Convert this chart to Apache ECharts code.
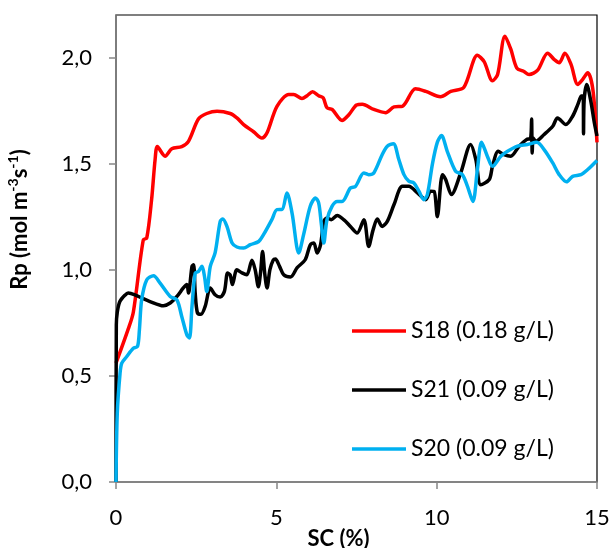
<!DOCTYPE html>
<html>
<head>
<meta charset="utf-8">
<script src="https://cdn.jsdelivr.net/npm/echarts@6/dist/echarts.min.js"></script>
<style>
html,body{margin:0;padding:0;background:#fff;}
#chart{width:613px;height:548px;}
</style>
</head>
<body>
<div id="chart"></div>
<script>
// ---- data ----
var seriesNames = ['S18 (0.18 g/L)', 'S21 (0.09 g/L)', 'S20 (0.09 g/L)'];
var xTicks = [0, 5, 10, 15];
var yTicks = [0, 0.5, 1.0, 1.5, 2.0];

var sc18 = [0, 0.38, 0.54, 0.85, 0.96, 1.11, 1.22, 1.29, 1.53, 1.74, 2.05, 2.26, 2.57, 2.83, 3.15, 3.56, 3.77, 3.98, 4.29, 4.55, 4.71, 5.02, 5.39, 5.54, 5.80, 5.96, 6.13, 6.32, 6.46, 6.58, 6.74, 7.05, 7.26, 7.50, 7.68, 8.04, 8.41, 8.67, 8.93, 9.34, 9.66, 10.12, 10.44, 10.85, 11.27, 11.48, 11.74, 11.90, 12.13, 12.31, 12.50, 12.71, 12.88, 13.15, 13.46, 13.67, 13.82, 14.00, 14.19, 14.40, 14.55, 14.71, 14.87, 15.0];
var rp18 = [0.56, 0.72, 0.80, 1.14, 1.15, 1.33, 1.52, 1.58, 1.535, 1.57, 1.58, 1.605, 1.71, 1.736, 1.747, 1.736, 1.715, 1.684, 1.65, 1.62, 1.645, 1.77, 1.825, 1.825, 1.807, 1.82, 1.838, 1.82, 1.81, 1.763, 1.755, 1.703, 1.73, 1.776, 1.78, 1.755, 1.74, 1.767, 1.77, 1.852, 1.84, 1.815, 1.84, 1.86, 2.01, 1.98, 1.89, 1.92, 2.10, 2.04, 1.95, 1.935, 1.92, 1.94, 2.02, 1.99, 1.975, 2.02, 1.967, 1.873, 1.896, 1.928, 1.85, 1.60];

var sc21 = [0, 0.01, 0.04, 0.12, 0.28, 0.38, 0.59, 0.80, 1.06, 1.48, 1.69, 1.90, 2.10, 2.21, 2.26, 2.37, 2.42, 2.47, 2.54, 2.65, 2.78, 2.94, 3.09, 3.25, 3.38, 3.48, 3.56, 3.63, 3.77, 3.93, 4.08, 4.24, 4.34, 4.44, 4.51, 4.57, 4.64, 4.71, 4.80, 4.90, 4.97, 5.10, 5.23, 5.44, 5.65, 5.90, 6.06, 6.17, 6.27, 6.38, 6.48, 6.58, 6.71, 6.90, 7.10, 7.31, 7.52, 7.73, 7.88, 8.02, 8.15, 8.30, 8.46, 8.67, 8.93, 9.13, 9.40, 9.66, 9.81, 9.92, 10.02, 10.18, 10.28, 10.46, 10.75, 11.06, 11.22, 11.375, 11.64, 11.74, 11.92, 12.10, 12.31, 12.57, 12.80, 12.93, 12.96, 12.98, 13.01, 13.09, 13.35, 13.62, 13.77, 14.03, 14.24, 14.40, 14.50, 14.57, 14.58, 14.60, 14.68, 14.80, 14.92, 15.0];
var rp21 = [0, 0.74, 0.80, 0.85, 0.88, 0.89, 0.882, 0.867, 0.85, 0.83, 0.843, 0.874, 0.914, 0.93, 0.89, 1.016, 1.024, 0.89, 0.796, 0.79, 0.827, 0.914, 0.882, 0.871, 0.898, 0.984, 0.976, 0.93, 1.0, 0.985, 0.976, 1.045, 1.0, 0.92, 0.99, 1.086, 0.98, 0.914, 1.0, 1.045, 1.05, 1.016, 0.976, 0.966, 1.01, 1.047, 1.118, 1.126, 1.079, 1.118, 1.228, 1.244, 1.236, 1.255, 1.236, 1.204, 1.173, 1.236, 1.11, 1.189, 1.239, 1.204, 1.228, 1.307, 1.393, 1.393, 1.362, 1.33, 1.37, 1.369, 1.25, 1.448, 1.425, 1.354, 1.456, 1.59, 1.52, 1.40, 1.425, 1.487, 1.558, 1.542, 1.535, 1.582, 1.613, 1.62, 1.71, 1.55, 1.62, 1.605, 1.637, 1.676, 1.715, 1.684, 1.723, 1.778, 1.817, 1.82, 1.64, 1.80, 1.873, 1.80, 1.69, 1.63];

var sc20 = [0, 0.04, 0.125, 0.18, 0.33, 0.54, 0.67, 0.73, 0.80, 0.96, 1.17, 1.375, 1.69, 1.90, 2.05, 2.21, 2.29, 2.37, 2.47, 2.57, 2.68, 2.76, 2.83, 2.94, 3.09, 3.25, 3.33, 3.46, 3.62, 3.77, 3.98, 4.19, 4.45, 4.60, 4.86, 5.02, 5.18, 5.33, 5.49, 5.70, 5.85, 6.06, 6.22, 6.32, 6.40, 6.48, 6.58, 6.74, 6.90, 7.05, 7.31, 7.47, 7.73, 7.88, 8.04, 8.30, 8.46, 8.65, 8.82, 8.98, 9.13, 9.29, 9.45, 9.60, 9.71, 9.87, 10.02, 10.15, 10.33, 10.59, 10.80, 10.96, 11.13, 11.27, 11.40, 11.58, 11.74, 12.00, 12.21, 12.52, 12.83, 13.12, 13.35, 13.62, 13.82, 14.05, 14.24, 14.50, 14.71, 15.0];
var rp20 = [0, 0.324, 0.51, 0.56, 0.59, 0.63, 0.638, 0.717, 0.858, 0.953, 0.972, 0.937, 0.874, 0.858, 0.78, 0.693, 0.678, 0.827, 0.984, 0.992, 1.016, 0.968, 0.898, 1.016, 1.079, 1.228, 1.239, 1.204, 1.126, 1.107, 1.102, 1.118, 1.133, 1.165, 1.236, 1.283, 1.284, 1.362, 1.267, 1.079, 1.165, 1.30, 1.338, 1.315, 1.22, 1.126, 1.236, 1.30, 1.322, 1.322, 1.385, 1.393, 1.456, 1.448, 1.456, 1.542, 1.582, 1.594, 1.519, 1.448, 1.417, 1.409, 1.369, 1.33, 1.354, 1.50, 1.60, 1.632, 1.558, 1.464, 1.448, 1.393, 1.322, 1.472, 1.60, 1.535, 1.487, 1.535, 1.558, 1.582, 1.59, 1.60, 1.566, 1.503, 1.448, 1.414, 1.44, 1.448, 1.472, 1.515];

function zip(xs, ys) { return xs.map(function (x, i) { return [x, ys[i]]; }); }

var FONT = 'Lato';
var chart = echarts.init(document.getElementById('chart'), null, { renderer: 'canvas' });

function mkSeries(name, xs, ys, color) {
  return {
    name: name, type: 'line', data: zip(xs, ys),
    symbol: 'none', smooth: 0.3,
    lineStyle: { color: color, width: 3.5 },
    itemStyle: { color: color },
    z: 3
  };
}

chart.setOption({
  animation: false,
  backgroundColor: '#fff',
  grid: { left: 116, top: 15, right: 16, bottom: 66, outerBoundsMode: 'none', containLabel: false, show: true, borderColor: '#000', borderWidth: 1.2, backgroundColor: 'transparent' },
  legend: {
    orient: 'vertical', left: 352, top: 319, padding: 0,
    icon: 'rect', itemWidth: 54, itemHeight: 3.5, itemGap: 35,
    textStyle: { fontFamily: FONT, fontSize: 23, color: '#000', lineHeight: 24 },
    data: seriesNames
  },
  xAxis: {
    type: 'value', min: 0, max: 15, interval: 5,
    axisLine: { show: true, onZero: false, lineStyle: { color: '#868686', width: 1.5 } },
    axisTick: { show: true, inside: false, length: 7, lineStyle: { color: '#868686', width: 1.5 }, customValues: xTicks },
    axisLabel: { fontFamily: FONT, fontSize: 22, color: '#000', margin: 25, customValues: xTicks, formatter: function (v) { return String(v); } },
    splitLine: { show: false },
    name: 'SC (%)', nameLocation: 'middle', nameGap: 46, nameMoveOverlap: false,
    nameTextStyle: { fontFamily: FONT, fontSize: 22, fontWeight: 'bold', color: '#000', padding: [0, 36, 0, 0] }
  },
  yAxis: {
    type: 'value', min: 0, max: 2.2, interval: 0.5,
    axisLine: { show: true, onZero: false, lineStyle: { color: '#868686', width: 1.5 } },
    axisTick: { show: true, inside: false, length: 7, lineStyle: { color: '#868686', width: 1.5 }, customValues: yTicks },
    axisLabel: { fontFamily: FONT, fontSize: 22, color: '#000', margin: 24, customValues: yTicks, formatter: function (v) { return v.toFixed(1).replace('.', ','); } },
    splitLine: { show: false },
    name: 'Rp (mol m{sup|-3}s{sup|-1})', nameLocation: 'middle', nameGap: 82, nameRotate: 90,
    nameTextStyle: {
      fontFamily: FONT, fontSize: 22, fontWeight: 'bold', color: '#000', padding: [0, 0, 0, 58], lineHeight: 28,
      rich: { sup: { fontFamily: FONT, fontSize: 14, fontWeight: 'bold', color: '#000', verticalAlign: 'top', lineHeight: 28, padding: [0, 0, 8, 0] } }
    }
  },
  series: [
    mkSeries(seriesNames[0], sc18, rp18, '#FF0000'),
    mkSeries(seriesNames[1], sc21, rp21, '#000000'),
    mkSeries(seriesNames[2], sc20, rp20, '#00B0F0')
  ]
});
</script>
</body>
</html>
